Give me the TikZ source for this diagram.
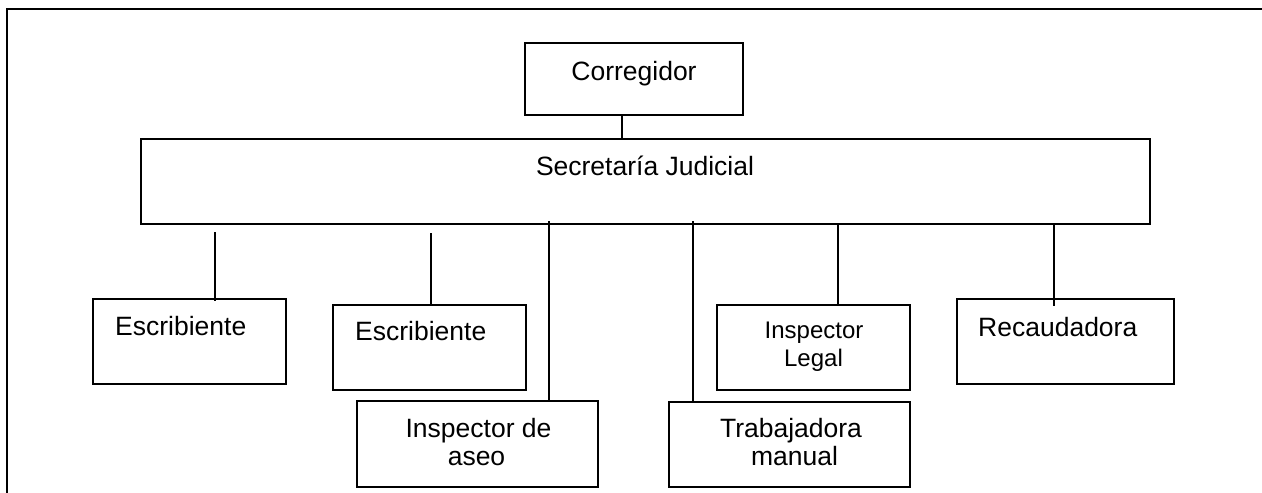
\documentclass[tikz,border=0pt]{standalone}
\usepackage{fontspec}
\setmainfont{Liberation Sans}
\begin{document}
\begin{tikzpicture}[x=1pt,y=-1pt,
  box/.style={draw=black, line width=1.7pt, rectangle, inner sep=0pt},
  thickbox/.style={box, line width=2.3pt},
  lbl/.style={inner sep=0pt, font=\fontsize{26.5}{28}\selectfont},
  smalllbl/.style={inner sep=0pt, font=\fontsize{24}{27}\selectfont},
  conn/.style={draw=black, line width=1.7pt}]
\useasboundingbox (0,0) rectangle (1262,493);
% outer frame
\draw[line width=2.4pt] (7,495) -- (7,9) -- (1265,9);
% boxes
\node[box, minimum width=218pt, minimum height=72pt] (corr) at (634,79) {};
\node[thickbox, minimum width=1009pt, minimum height=85pt] (sec) at (645.5,181.5) {};
\node[box, minimum width=193pt, minimum height=85pt] (esc1) at (189.5,341.5) {};
\node[box, minimum width=193pt, minimum height=85pt] (esc2) at (429.5,347.5) {};
\node[box, minimum width=241pt, minimum height=86pt] (insa) at (477.5,444) {};
\node[thickbox, minimum width=241pt, minimum height=85pt] (trab) at (789.5,444.5) {};
\node[box, minimum width=193pt, minimum height=85pt] (insl) at (813.5,347.5) {};
\node[box, minimum width=217pt, minimum height=85pt] (reca) at (1065.5,341.5) {};
% texts
\node[lbl, anchor=base] (tcorr) at (634,80) {Corregidor};
\node[lbl, anchor=base] (tsec) at (645,175) {Secretaría Judicial};
\node[lbl, anchor=base west] (tesc1) at (115,335) {Escribiente};
\node[lbl, anchor=base west] (tesc2) at (355,340) {Escribiente};
\node[lbl, anchor=base] (tinsa1) at (478.5,437) {Inspector de};
\node[lbl, anchor=base] (tinsa2) at (476.5,465) {aseo};
\node[lbl, anchor=base] (ttrab1) at (791,437) {Trabajadora};
\node[lbl, anchor=base] (ttrab2) at (794.5,465) {manual};
\node[smalllbl, anchor=base] (tinsl1) at (814,338) {Inspector};
\node[smalllbl, anchor=base] (tinsl2) at (813.5,366) {Legal};
\node[lbl, anchor=base west] (treca) at (978,336) {Recaudadora};
% connector end points
\coordinate (c1) at (215,232);
\coordinate (c2) at (431,233);
\coordinate (c3) at (549,221);
\coordinate (c4) at (693,221);
\coordinate (c5) at (838,224);
\coordinate (c6) at (1054,224);
% connectors
\draw[conn] (corr.south -| 622,0) -- (sec.north -| 622,0);
\draw[conn] (c1) -- ([yshift=-3pt]esc1.north -| c1);
\draw[conn] (c2) -- (esc2.north -| c2);
\draw[conn] (c3) -- (insa.north -| c3);
\draw[conn] (c4) -- (trab.north -| c4);
\draw[conn] (c5) -- (insl.north -| c5);
\draw[conn] (c6) -- ([yshift=-8pt]reca.north -| c6);
\end{tikzpicture}
\end{document}
